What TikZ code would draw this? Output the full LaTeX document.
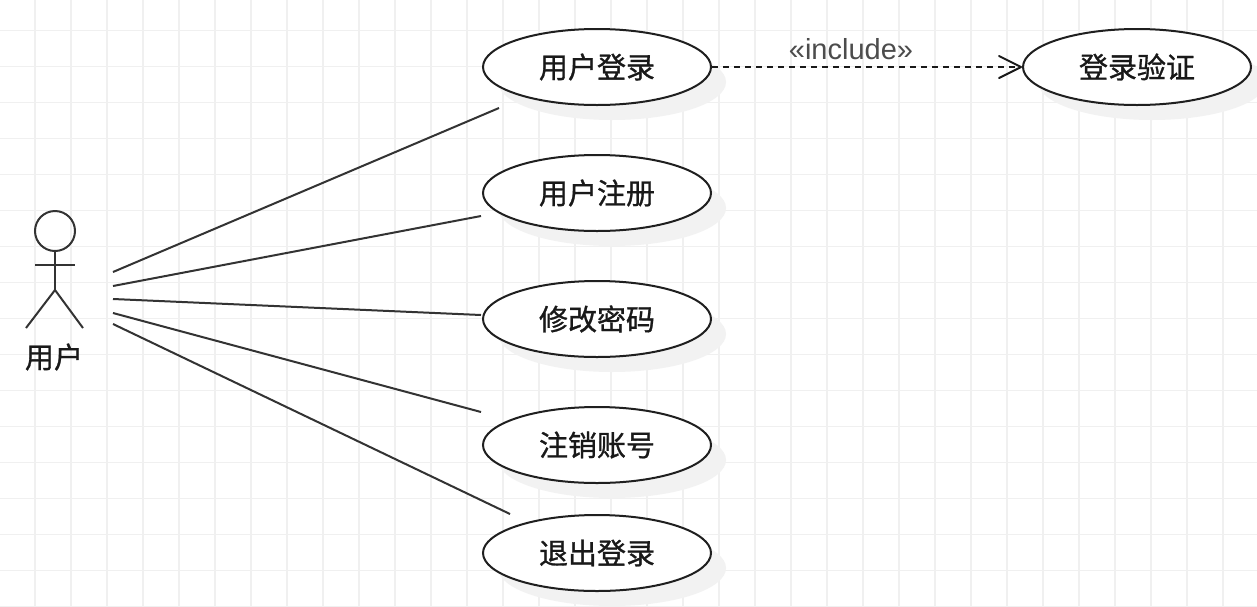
\documentclass[tikz,border=0pt]{standalone}
\usepackage{fontspec}
\setmainfont{Liberation Sans}
\newfontfamily\cjk[RawFeature={embolden=1.0}]{Noto Sans CJK SC}
\usetikzlibrary{shapes.geometric,arrows.meta}
\tikzset{
  usecase/.style={ellipse,draw=black!88,line width=2pt,fill=white,minimum width=228pt,minimum height=76pt,inner sep=0pt,font=\cjk\fontsize{29}{32}\selectfont,text=black!90},
  shadowshape/.style={fill=black!5,draw=none},
  assoc/.style={draw=black!80,line width=2pt},
  dep/.style={draw=black!90,line width=2pt,dash pattern=on 6pt off 5pt},
  stick/.style={draw=black!80,line width=2pt},
  gridline/.style={draw=black!6,line width=1.5pt}
}
\begin{document}
\begin{tikzpicture}[x=1pt,y=-1pt]
\useasboundingbox (0,0) rectangle (1257,606);
\fill[white] (0,0) rectangle (1257,606);
\foreach \i in {0,...,34} {\draw[gridline] ({35+36*\i-36},0) -- ({35+36*\i-36},606);}
\foreach \j in {0,...,17} {\draw[gridline] (0,{30.7+36*\j-36}) -- (1257,{30.7+36*\j-36});}
% shadows
\foreach \cx/\cy in {597/67,597/193,597/319,597/445,597/553,1137/67}
  {\fill[shadowshape] ({\cx+15},{\cy+15}) ellipse [x radius=114, y radius=38];}
% use cases
\node[usecase] (login) at (597,67) {\raisebox{1pt}{用户登录}};
\node[usecase] (reg) at (597,193) {\raisebox{1pt}{用户注册}};
\node[usecase] (pwd) at (597,319) {\raisebox{1pt}{修改密码}};
\node[usecase] (del) at (597,445) {\raisebox{1pt}{注销账号}};
\node[usecase] (quit) at (597,553) {\raisebox{1pt}{退出登录}};
\node[usecase] (verify) at (1137,67) {\raisebox{1pt}{登录验证}};
% actor
\node[circle,stick,minimum size=40pt,inner sep=0pt] (head) at (55,231) {};
\coordinate (hip) at (55,290);
\coordinate (armL) at (35,265);
\coordinate (armR) at (75,265);
\coordinate (legL) at (26,328);
\coordinate (legR) at (83,328);
\draw[stick] (head.south) -- (hip);
\draw[stick] (armL) -- (armR);
\draw[stick] (legL) -- (hip) -- (legR);
\node[font=\cjk\fontsize{29}{32}\selectfont,text=black!90,inner sep=0pt] (actorlabel) at (54,357) {用户};
% association ends
\coordinate (a1) at (113,272); \coordinate (b1) at (499,108);
\coordinate (a2) at (113,286); \coordinate (b2) at (481,216);
\coordinate (a3) at (113,299); \coordinate (b3) at (481,315);
\coordinate (a4) at (113,313); \coordinate (b4) at (481,412);
\coordinate (a5) at (113,324); \coordinate (b5) at (510,514);
\draw[assoc] (a1) -- (b1);
\draw[assoc] (a2) -- (b2);
\draw[assoc] (a3) -- (b3);
\draw[assoc] (a4) -- (b4);
\draw[assoc] (a5) -- (b5);
% include
\draw[dep,-{Straight Barb[length=22pt,width=22pt,line width=2pt,round]}] (login.east) -- (verify.west);
\node[font=\fontsize{29}{30}\selectfont,text=black!70,inner sep=0pt] (inc) at (851,49) {«include»};
\end{tikzpicture}
\end{document}
